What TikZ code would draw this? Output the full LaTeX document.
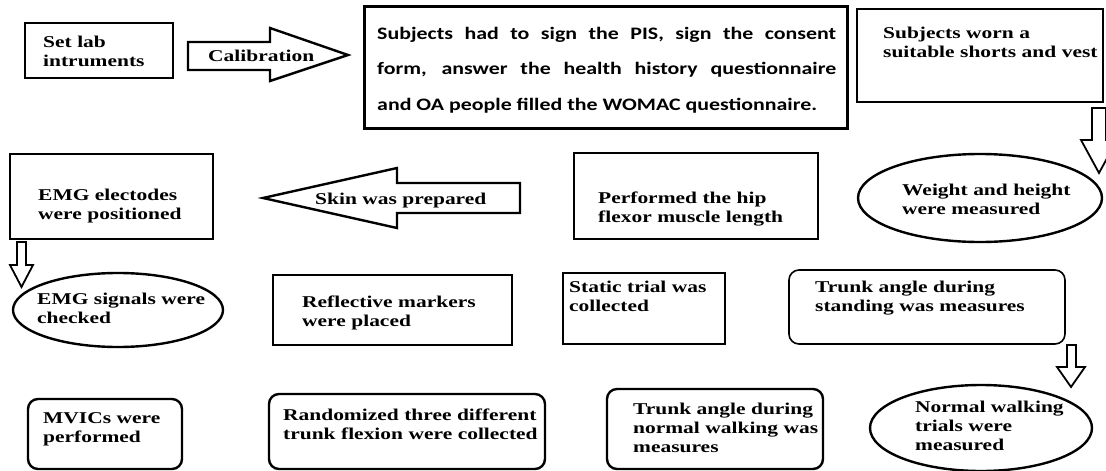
\documentclass[tikz,border=0pt]{standalone}
\usepackage{fontspec}
\usetikzlibrary{shapes.geometric}
\newfontfamily\timesfont[FakeStretch=1.3]{Liberation Serif}
\newfontfamily\calfont[FakeStretch=1.25]{Carlito}
\begin{document}
\begin{tikzpicture}[x=1pt,y=-1pt,
  box/.style={draw, line width=2.6pt, inner sep=0pt},
  rbox/.style={draw, line width=2.4pt, rounded corners=10pt, inner sep=0pt},
  ebox/.style={draw, ellipse, line width=2.4pt, inner sep=0pt},
  barrow/.style={draw, line width=2.4pt, line join=miter, fill=white},
  sarrow/.style={draw, line width=1.8pt, line join=miter, fill=white},
  txt/.style={anchor=base west, inner sep=0pt, align=left, text width=270pt,
    font=\timesfont\bfseries\fontsize{16.5}{19}\selectfont}]
\useasboundingbox (0,0) rectangle (1106,471);
\clip (0,0) rectangle (1106,471);
\fill[white] (0,0) rectangle (1106,471);

% boxes
\node[box, minimum width=148pt, minimum height=55pt] (setlab) at (99,50.5) {};
\node[box, line width=3pt, minimum width=483pt, minimum height=122pt] (pis) at (605.5,67) {};
\node[box, minimum width=246pt, minimum height=93pt] (worn) at (980,55.5) {};
\node[box, minimum width=203pt, minimum height=85pt] (emge) at (111.5,196.5) {};
\node[box, minimum width=244pt, minimum height=86pt] (hip) at (696,196) {};
\node[box, minimum width=239pt, minimum height=70pt] (refl) at (392.5,310) {};
\node[box, minimum width=162pt, minimum height=71pt] (static) at (644,308.5) {};
\node[rbox, line width=1.6pt, minimum width=276pt, minimum height=74pt] (stand) at (927,307) {};
\node[rbox, minimum width=154pt, minimum height=70pt] (mvic) at (105,434) {};
\node[rbox, minimum width=276pt, minimum height=75pt] (rand) at (407,431.5) {};
\node[rbox, minimum width=216pt, minimum height=80pt] (walk) at (715,429) {};
\node[ebox, minimum width=244pt, minimum height=88pt] (weight) at (980,198) {};
\node[ebox, minimum width=210pt, minimum height=74pt] (emgsig) at (118,310) {};
\node[ebox, minimum width=222pt, minimum height=86pt] (normal) at (981,428) {};

% block arrows
\draw[barrow] (188,42) -- (270,42) -- (270,28) -- (348,55) -- (270,81) -- (270,70) -- (188,70) -- cycle;
\draw[barrow] (520,183) -- (397,183) -- (397,168) -- (263,198) -- (397,228) -- (397,213) -- (520,213) -- cycle;
\draw[sarrow] (1092,108) -- (1092,140) -- (1081,140) -- (1099,173) -- (1117,140) -- (1106,140) -- (1106,108) -- cycle;
\draw[sarrow] (17,242) -- (17,265) -- (10,265) -- (21.5,287) -- (33,265) -- (26,265) -- (26,242) -- cycle;
\draw[sarrow] (1067,345) -- (1067,367) -- (1057,367) -- (1071,387) -- (1085,367) -- (1076,367) -- (1076,345) -- cycle;

% texts
\node[txt, text width=130pt] (tsetlab) at (43,47) {Set lab\\intruments};
\node[txt, text width=110pt] (tcal) at (208,61) {Calibration};
\node[anchor=base west, inner sep=0pt, text width=459pt, align=justify,
  font=\calfont\bfseries\fontsize{17.5}{35.5}\selectfont] (tpis) at (377,39)
  {Subjects had to sign the PIS, sign the consent\linebreak form, answer the health history questionnaire\linebreak and OA people filled the WOMAC questionnaire.};
\node[txt, text width=215pt] (tworn) at (883,38) {Subjects worn a\\suitable shorts and vest};
\node[txt, text width=170pt] (temge) at (38,200) {EMG electodes\\were positioned};
\node[txt, text width=180pt] (tskin) at (315,204) {Skin was prepared};
\node[txt, text width=210pt] (thip) at (598,203) {Performed the hip\\flexor muscle length};
\node[txt, text width=175pt] (tweight) at (902,195) {Weight and height\\were measured};
\node[txt, text width=180pt] (temgsig) at (37,304) {EMG signals were\\checked};
\node[txt, text width=200pt] (trefl) at (302,307) {Reflective markers\\were placed};
\node[txt, text width=150pt] (tstatic) at (569,292) {Static trial was\\collected};
\node[txt, text width=245pt] (tstand) at (815,292) {Trunk angle during\\standing was measures};
\node[txt, text width=130pt] (tmvic) at (43,423) {MVICs were\\performed};
\node[txt, text width=260pt] (trand) at (283,420) {Randomized three different\\trunk flexion were collected};
\node[txt, text width=200pt] (twalk) at (633,414) {Trunk angle during\\normal walking was\\measures};
\node[txt, text width=165pt] (tnormal) at (915,412) {Normal walking\\trials were\\measured};
\end{tikzpicture}
\end{document}
